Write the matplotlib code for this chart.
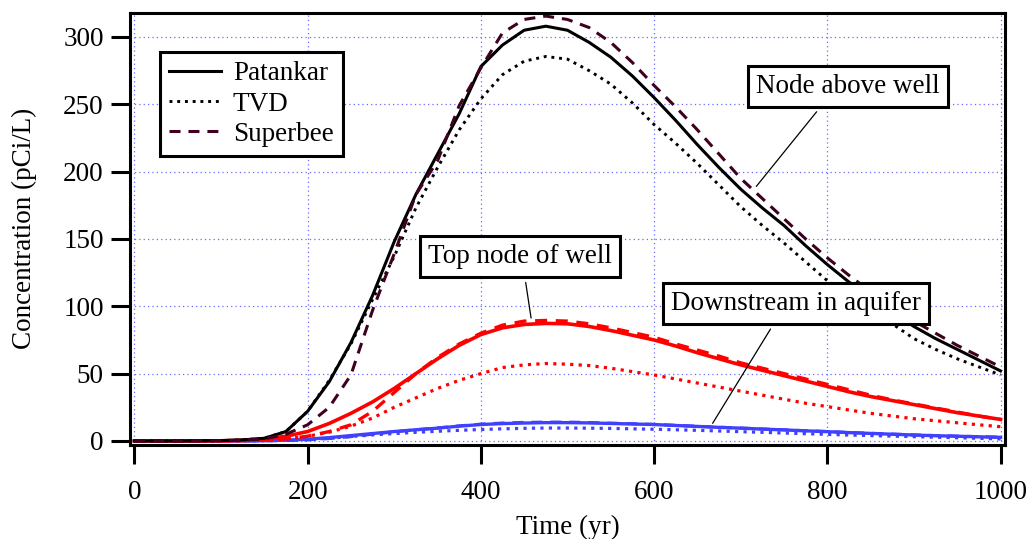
import matplotlib
matplotlib.use("Agg")
import matplotlib.pyplot as plt

plt.rcParams['font.family'] = ['Liberation Serif', 'DejaVu Serif']
plt.rcParams['font.size'] = 19.5

# time (yr)
t = [0, 50, 100, 125, 150, 175, 200, 225, 250, 275, 300, 325, 350, 375, 400,
     425, 450, 475, 500, 525, 550, 575, 600, 625, 650, 675, 700, 725, 750,
     775, 800, 825, 850, 875, 900, 925, 950, 975, 1000]

# node above well
above_pat = [0, 0, 0.3, 0.8, 2, 7, 22, 44, 73, 108, 148, 183, 213, 243, 278,
             294, 305, 308, 305, 296, 285, 271, 255, 238, 220, 203, 187, 173, 160,
             145, 131, 118, 107, 96, 85, 76, 68, 60, 52]
above_tvd = [0, 0, 0.3, 0.8, 2, 7, 22, 45, 72, 105, 137, 173, 203, 231, 254,
             272, 282, 285.5, 283.5, 275, 265, 251, 235, 221, 206, 190, 174, 160, 147,
             133, 119, 109, 99, 87, 76, 68, 61, 55, 49]
above_sb = [0, 0, 0.2, 0.6, 1.5, 5, 12, 25, 49, 97, 139, 183, 208, 249, 277,
            303, 313, 315.5, 313, 307, 296, 281, 264, 248, 231, 213, 195, 180, 165,
            150, 136, 123, 111, 100, 89, 80, 71, 63, 55]

# top node of well
top_pat = [0, 0, 0.1, 0.5, 1.5, 3.5, 7, 13, 20.5, 29, 39, 50, 61, 71, 79,
           84, 86.5, 87.3, 87, 85, 82, 78.5, 75, 70.5, 65.5, 61, 56.5, 52.5, 48.5,
           44.5, 40.5, 36.5, 33, 30, 27, 24, 21, 18.5, 16]
top_tvd = [0, 0, 0, 0.2, 0.5, 1.5, 3.5, 6.5, 11, 17, 25, 32, 39, 45, 50,
           54.5, 56.5, 57.5, 57, 56, 54, 51.5, 49, 46, 43, 40, 37, 34, 31,
           28, 25.5, 23, 20.5, 18.5, 16.5, 15, 13.5, 12, 10.6]
top_sb = [0, 0, 0, 0.2, 0.5, 1.5, 3.5, 7, 12, 22, 36, 50, 62, 72, 80,
          86, 89, 89.5, 89, 87, 84, 80.5, 77, 72, 67.5, 63, 58, 54, 50,
          46, 42, 38, 34, 30.5, 27.5, 24.5, 21.5, 18.5, 16]

# downstream in aquifer
down_pat = [0, 0, 0, 0.1, 0.2, 0.6, 1.3, 2.5, 4, 5.5, 7, 8.3, 9.5, 11, 12.2,
            12.9, 13.3, 13.6, 13.6, 13.4, 13, 12.6, 12.2, 11.5, 10.8, 10.1, 9.5, 8.8, 8.2,
            7.5, 6.9, 6.2, 5.6, 5, 4.4, 3.9, 3.5, 3.1, 2.7]
down_tvd = [0, 0, 0, 0.1, 0.2, 0.5, 1, 2, 3.3, 4.5, 5.5, 6.4, 7.2, 7.9, 8.5,
            9, 9.4, 9.6, 9.6, 9.5, 9.3, 9, 8.7, 8.3, 7.9, 7.4, 6.9, 6.4, 5.9,
            5.4, 4.9, 4.4, 4, 3.6, 3.2, 2.8, 2.4, 2, 1.5]
down_sb = [0, 0, 0, 0, 0.1, 0.3, 0.8, 1.8, 3.2, 5, 6.8, 8.3, 9.7, 11.2, 12.5,
           13.3, 13.8, 14, 14, 13.7, 13.2, 12.8, 12.3, 11.6, 10.9, 10.2, 9.6, 8.9, 8.3,
           7.6, 7, 6.3, 5.7, 5.1, 4.5, 4, 3.6, 3.2, 2.8]

maroon = '#400020'
red = '#ff0000'
blue = '#4040ff'
dash = (3.6, 2.6)

fig = plt.figure(figsize=(10.28, 5.39), dpi=100)
ax = fig.add_axes([0.1265, 0.1744, 0.851, 0.802])

ax.plot(t, down_pat, color=blue, lw=2.4)
ax.plot(t, down_tvd, color=blue, lw=2.3, ls=':')
ax.plot(t, down_sb, color=blue, lw=2.2, ls=(0, dash))

ax.plot(t, top_pat, color=red, lw=2.6)
ax.plot(t, top_tvd, color=red, lw=2.3, ls=':')
ax.plot(t, top_sb, color=red, lw=2.4, ls=(0, dash))

ax.plot(t, above_pat, color='black', lw=2.2, label='Patankar')
ax.plot(t, above_tvd, color='black', lw=2.1, ls=':', label='TVD')
ax.plot(t, above_sb, color=maroon, lw=2.2, ls=(0, dash), label='Superbee')

ax.set_xlim(-5, 1005)
ax.set_ylim(-3, 318)
ax.set_xticks([0, 200, 400, 600, 800, 1000])
ax.set_yticks([0, 50, 100, 150, 200, 250, 300])
ax.grid(True, color='#6a6aff', ls=(0, (1, 2.5)), lw=0.9)
ax.set_axisbelow(True)

for s in ax.spines.values():
    s.set_linewidth(2.2)
ax.tick_params(direction='out', length=14, width=2.2, labelsize=19.5)
ax.tick_params(axis='x', pad=11)
ax.tick_params(axis='y', pad=5)

ax.set_xlabel('Time (yr)', labelpad=7)
ax.set_ylabel('Concentration (pCi/L)', labelpad=19)

leg = ax.legend(loc='upper left', bbox_to_anchor=(0.034, 0.91),
                frameon=True, fancybox=False, handlelength=1.9,
                handletextpad=0.45, labelspacing=0.2, borderpad=0.35,
                borderaxespad=0)
leg.get_frame().set_edgecolor('black')
leg.get_frame().set_linewidth(2.2)
leg.get_frame().set_alpha(1)

box = dict(boxstyle='square,pad=0.3', fc='white', ec='black', lw=2.2)
ax.annotate('Node above well', xy=(718, 189), xytext=(823.7, 263),
            ha='center', va='center', bbox=box, zorder=5,
            arrowprops=dict(arrowstyle='-', lw=0.9, color='black',
                            relpos=(0.385, 0), shrinkA=3, shrinkB=0))
ax.annotate('Top node of well', xy=(458, 91.3), xytext=(445.2, 136.9),
            ha='center', va='center', bbox=box, zorder=5,
            arrowprops=dict(arrowstyle='-', lw=0.9, color='black',
                            relpos=(0.52, 0), shrinkA=3, shrinkB=0))
ax.annotate('Downstream in aquifer', xy=(667.6, 13.1), xytext=(763.7, 101.9),
            ha='center', va='center', bbox=box, zorder=5,
            arrowprops=dict(arrowstyle='-', lw=0.9, color='black',
                            relpos=(0.43, 0), shrinkA=3, shrinkB=0))

fig.savefig('out.png', dpi=100)
